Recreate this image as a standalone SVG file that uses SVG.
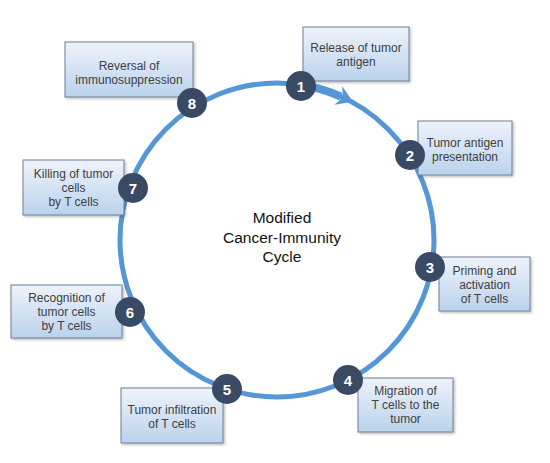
<svg xmlns="http://www.w3.org/2000/svg" width="550" height="463" viewBox="0 0 550 463">
<defs>
<linearGradient id="bg" x1="0" y1="0" x2="0" y2="1">
<stop offset="0" stop-color="#eef3fa"/>
<stop offset="1" stop-color="#bad2ed"/>
</linearGradient>
<filter id="sh" x="-10%" y="-10%" width="130%" height="130%">
<feDropShadow dx="1.5" dy="1.5" stdDeviation="1.2" flood-color="#000" flood-opacity="0.25"/>
</filter>
</defs>
<style>
.box{fill:url(#bg);stroke:#6f7f95;stroke-width:1;filter:url(#sh)}
.bt{font-family:"Liberation Sans",Arial,sans-serif;font-size:12px;fill:#404040;text-anchor:middle}
.num{fill:#3b4a64}
.nt{font-family:"Liberation Sans",Arial,sans-serif;font-size:15px;font-weight:bold;fill:#fff;text-anchor:middle}
.ct{font-family:"Liberation Sans",Arial,sans-serif;font-size:15.5px;fill:#111;text-anchor:middle}
.ring{fill:none;stroke:#5596d6;stroke-width:5}
</style>
<rect width="550" height="463" fill="#fff"/>
<g id="connectors">
<circle class="ring" cx="277" cy="240" r="157"/>
<path d="M298.9 84.5 A157 157 0 0 1 340.9 96.6" fill="none" stroke="#5596d6" stroke-width="8"/>
<polygon points="342.2,86.3 353,101.7 334.4,104.7 342.9,97.5" fill="#5596d6"/>
</g>
<g id="center"><text class="ct" x="282" y="223">Modified</text><text class="ct" x="282" y="243">Cancer-Immunity</text><text class="ct" x="282" y="262">Cycle</text></g>
<g id="n1"><rect class="box" x="303" y="27" width="106" height="54"/><text class="bt" x="356" y="52">Release of tumor</text><text class="bt" x="356" y="66">antigen</text><circle class="num" cx="301" cy="86" r="15"/><text class="nt" x="301" y="91.5">1</text></g>
<g id="n2"><rect class="box" x="418" y="121" width="94" height="54"/><text class="bt" x="465" y="147">Tumor antigen</text><text class="bt" x="465" y="161">presentation</text><circle class="num" cx="410" cy="155" r="15"/><text class="nt" x="410" y="160.5">2</text></g>
<g id="n3"><rect class="box" x="439" y="257" width="91" height="54"/><text class="bt" x="484.5" y="275">Priming and</text><text class="bt" x="484.5" y="289">activation</text><text class="bt" x="484.5" y="303">of T cells</text><circle class="num" cx="430" cy="267" r="15"/><text class="nt" x="430" y="272.5">3</text></g>
<g id="n4"><rect class="box" x="358" y="378" width="95" height="54"/><text class="bt" x="405.5" y="395">Migration of</text><text class="bt" x="405.5" y="409">T cells to the</text><text class="bt" x="405.5" y="423">tumor</text><circle class="num" cx="348" cy="380" r="15"/><text class="nt" x="348" y="385.5">4</text></g>
<g id="n5"><rect class="box" x="121" y="388" width="102" height="55"/><text class="bt" x="172" y="414">Tumor infiltration</text><text class="bt" x="172" y="428">of T cells</text><circle class="num" cx="227" cy="389" r="15"/><text class="nt" x="227" y="394.5">5</text></g>
<g id="n6"><rect class="box" x="11" y="285" width="111" height="53"/><text class="bt" x="66.5" y="302">Recognition of</text><text class="bt" x="66.5" y="316">tumor cells</text><text class="bt" x="66.5" y="330">by T cells</text><circle class="num" cx="130" cy="312" r="15"/><text class="nt" x="130" y="317.5">6</text></g>
<g id="n7"><rect class="box" x="23" y="160" width="101" height="55"/><text class="bt" x="73.5" y="178">Killing of tumor</text><text class="bt" x="73.5" y="192">cells</text><text class="bt" x="73.5" y="206">by T cells</text><circle class="num" cx="133" cy="188" r="15"/><text class="nt" x="133" y="193.5">7</text></g>
<g id="n8"><rect class="box" x="65" y="42" width="128" height="55"/><text class="bt" x="129" y="70">Reversal of</text><text class="bt" x="129" y="84">immunosuppression</text><circle class="num" cx="192" cy="103" r="15"/><text class="nt" x="192" y="108.5">8</text></g>
</svg>
